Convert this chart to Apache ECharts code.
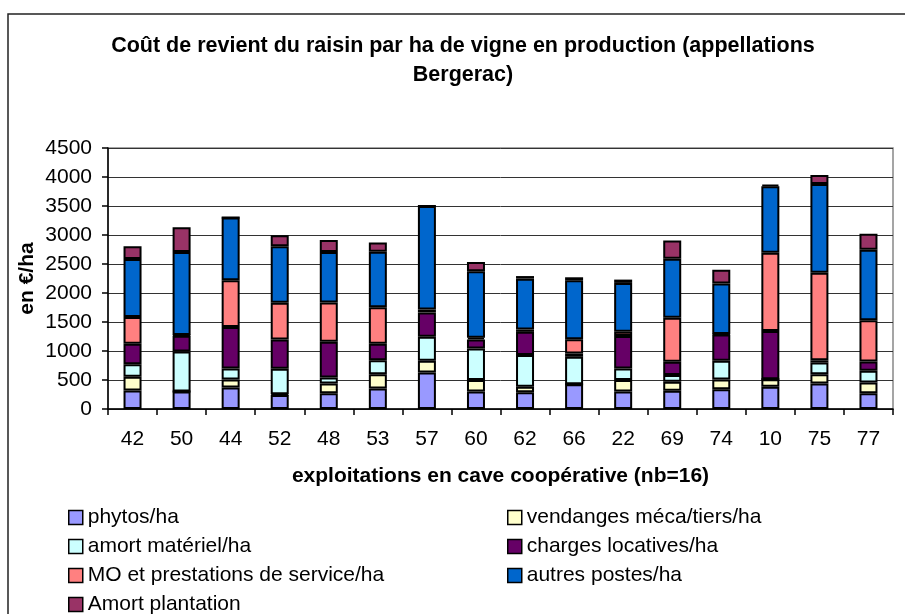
<!DOCTYPE html>
<html>
<head>
<meta charset="utf-8">
<title>Coût de revient du raisin</title>
<script src="https://cdn.jsdelivr.net/npm/echarts@6.0.0/dist/echarts.min.js"></script>
<style>
  html, body { margin: 0; padding: 0; background: #fff; }
  #chart { width: 905px; height: 614px; }
</style>
</head>
<body>
<div id="chart"></div>
<script>
// exploitations (ordre du graphique)
var exploitations = ['42', '50', '44', '52', '48', '53', '57', '60', '62', '66', '22', '69', '74', '10', '75', '77'];

// valeurs en €/ha
var phytos     = [320, 300, 370, 240, 270, 355, 630, 300, 290, 425, 300, 315, 340, 385, 440, 270];
var vendanges  = [235, 0, 140, 15, 170, 245, 200, 200, 95, 0, 200, 155, 170, 130, 160, 185];
var amortMat   = [215, 690, 190, 440, 105, 240, 415, 545, 545, 475, 200, 115, 320, 0, 200, 205];
var charges    = [355, 275, 715, 505, 615, 285, 420, 155, 400, 57, 557, 230, 455, 830, 40, 160];
var moPresta   = [460, 10, 805, 630, 675, 630, 50, 30, 40, 247, 74, 757, 10, 1350, 1510, 710];
var autres     = [1000, 1430, 1080, 975, 870, 955, 1785, 1143, 877, 1015, 843, 1020, 870, 1145, 1530, 1215];
var amortPlant = [220, 430, 0, 190, 210, 160, 0, 161, 45, 52, 57, 315, 235, 30, 155, 275];

var yTicks = { min: 0, max: 4500, interval: 500 };

var FONT = 'Liberation Sans, Arial, sans-serif';

var seriesDefs = [
  { name: 'phytos/ha', data: phytos, color: '#9999FF' },
  { name: 'vendanges méca/tiers/ha', data: vendanges, color: '#FFFFCC' },
  { name: 'amort matériel/ha', data: amortMat, color: '#CCFFFF' },
  { name: 'charges locatives/ha', data: charges, color: '#660066' },
  { name: 'MO et prestations de service/ha', data: moPresta, color: '#FF8080' },
  { name: 'autres postes/ha', data: autres, color: '#0066CC' },
  { name: 'Amort plantation', data: amortPlant, color: '#993366' }
];

var chart = echarts.init(document.getElementById('chart'), null, { renderer: 'canvas' });

// legend runs past the bottom edge like the original, so give it room to not wrap
var legendBase = {
  orient: 'vertical',
  top: 507,
  height: 200,
  padding: 0,
  itemWidth: 14,
  itemHeight: 14,
  itemGap: 8,
  icon: 'rect',
  itemStyle: { borderColor: '#000', borderWidth: 1.5 },
  textStyle: { fontFamily: FONT, fontSize: 21, color: '#000', lineHeight: 21 },
  selectedMode: false
};

chart.setOption({
  backgroundColor: '#fff',
  animation: false,
  title: {
    text: 'Coût de revient du raisin par ha de vigne en production (appellations\nBergerac)',
    left: 463,
    top: 32,
    padding: 0,
    textAlign: 'center',
    textStyle: { fontFamily: FONT, fontSize: 21.5, fontWeight: 'bold', color: '#000', lineHeight: 29 }
  },
  graphic: [{
    type: 'rect',
    shape: { x: 8, y: 14, width: 920, height: 640 },
    style: { fill: 'none', stroke: '#222', lineWidth: 1.5 },
    silent: true
  }],
  legend: [
    Object.assign({}, legendBase, {
      left: 68,
      data: ['phytos/ha', 'amort matériel/ha', 'MO et prestations de service/ha', 'Amort plantation']
    }),
    Object.assign({}, legendBase, {
      left: 507,
      data: ['vendanges méca/tiers/ha', 'charges locatives/ha', 'autres postes/ha']
    })
  ],
  grid: {
    left: 108,
    right: 12,
    top: 148,
    bottom: 205,
    show: true,
    borderColor: '#888',
    borderWidth: 1.5,
    containLabel: false
  },
  xAxis: {
    type: 'category',
    data: exploitations,
    name: 'exploitations en cave coopérative (nb=16)',
    nameLocation: 'middle',
    nameGap: 57,
    nameTextStyle: { fontFamily: FONT, fontSize: 21, fontWeight: 'bold', color: '#000' },
    axisLine: { lineStyle: { color: '#000', width: 1.5 } },
    axisTick: { show: true, length: 6, lineStyle: { color: '#000', width: 1.5 } },
    axisLabel: { fontFamily: FONT, fontSize: 21, color: '#000', margin: 20 }
  },
  yAxis: {
    type: 'value',
    min: yTicks.min,
    max: yTicks.max,
    interval: yTicks.interval,
    name: 'en €/ha',
    nameLocation: 'middle',
    nameGap: 70,
    nameMoveOverlap: false,
    nameRotate: 90,
    nameTextStyle: { fontFamily: FONT, fontSize: 21, fontWeight: 'bold', color: '#000' },
    axisLine: { show: true, lineStyle: { color: '#000', width: 1.5 } },
    axisTick: { show: true, length: 6, lineStyle: { color: '#000', width: 1.5 } },
    axisLabel: {
      fontFamily: FONT, fontSize: 21, color: '#000', margin: 16,
      formatter: function (v) { return String(v); }
    },
    splitLine: { show: true, lineStyle: { color: '#333', width: 1 } }
  },
  series: seriesDefs.map(function (s) {
    return {
      name: s.name,
      type: 'bar',
      stack: 'total',
      barWidth: 18,
      data: s.data,
      itemStyle: { color: s.color, borderColor: '#000', borderWidth: 2 }
    };
  })
});
</script>
</body>
</html>
